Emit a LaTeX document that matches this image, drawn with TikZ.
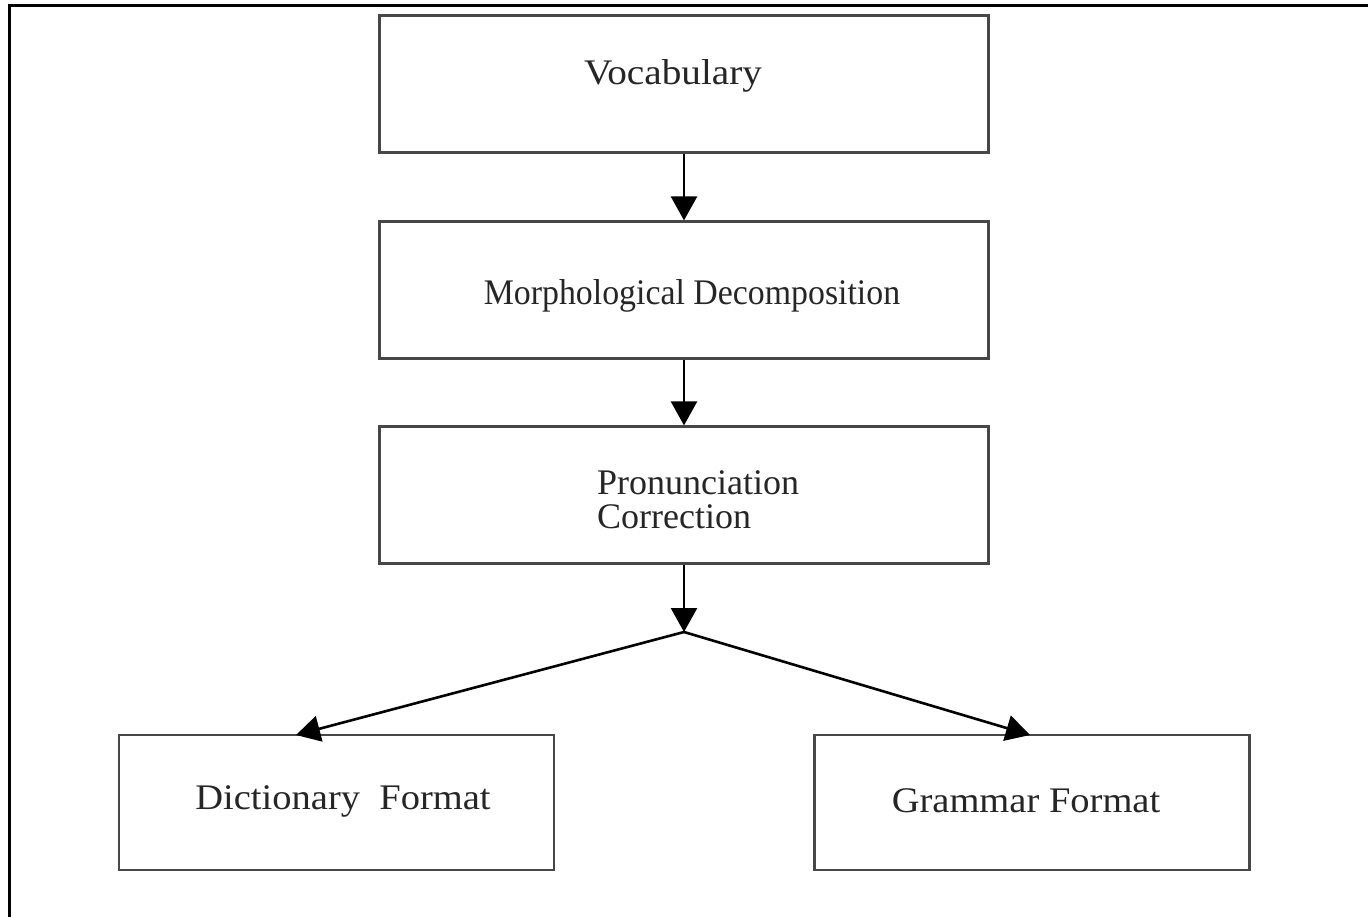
\documentclass[tikz,border=0pt]{standalone}
\usepackage{fontspec}
\setmainfont{Liberation Serif}
\usetikzlibrary{arrows.meta}
\begin{document}
\begin{tikzpicture}[x=1pt,y=-1pt,
  box/.style={draw=black!72, line width=2.2pt, rectangle, inner sep=0pt},
  widebox/.style={box, minimum width=609pt, minimum height=137pt},
  leafbox/.style={box, minimum width=435pt, minimum height=135pt},
  lbl/.style={font=\fontsize{36}{34}\selectfont, text=black!85, inner sep=0pt},
  flow/.style={line width=2.6pt, -{Triangle[length=24pt,width=26pt]}},
  frame/.style={line width=2.4pt}]
\useasboundingbox (0,0) rectangle (1368,917);
\fill[white] (0,0) rectangle (1368,917);
% outer frame (only its top and left edges lie in view)
\draw[frame] (9.5,930) -- (9.5,5.5) -- (1380,5.5);

% pipeline boxes
\node[widebox] (vocab) at (684,84) {};
\node[widebox] (morph) at (684,290) {};
\node[widebox] (pron)  at (684,495) {};
\node[leafbox] (dict)  at (336.5,802.5) {};
\node[leafbox] (gram)  at (1032,802.5) {};

% box captions
\node[lbl] (vocabT) at (673,76) {\scalebox{1.09}[1]{Vocabulary}};
\node[lbl] (morphT) at (692,296) {\scalebox{0.94}[1]{Morphological Decomposition}};
\node[lbl, align=left, anchor=west] (pronT) at (597,500) {Pronunciation\\Correction};
\node[lbl] (dictT) at (343,801) {\scalebox{1.07}[1]{Dictionary\ \ Format}};
\node[lbl] (gramT) at (1026,801) {\scalebox{1.07}[1]{Grammar Format}};

% connectors
\coordinate (split) at (684,632);
\coordinate (dtip) at (296,735);
\coordinate (gtip) at (1030,735);
\draw[flow] (vocab.south) -- (morph.north);
\draw[flow] (morph.south) -- (pron.north);
\draw[flow] (pron.south) -- (split);
\draw[flow] (split) -- (dtip);
\draw[flow] (split) -- (gtip);
\end{tikzpicture}
\end{document}
